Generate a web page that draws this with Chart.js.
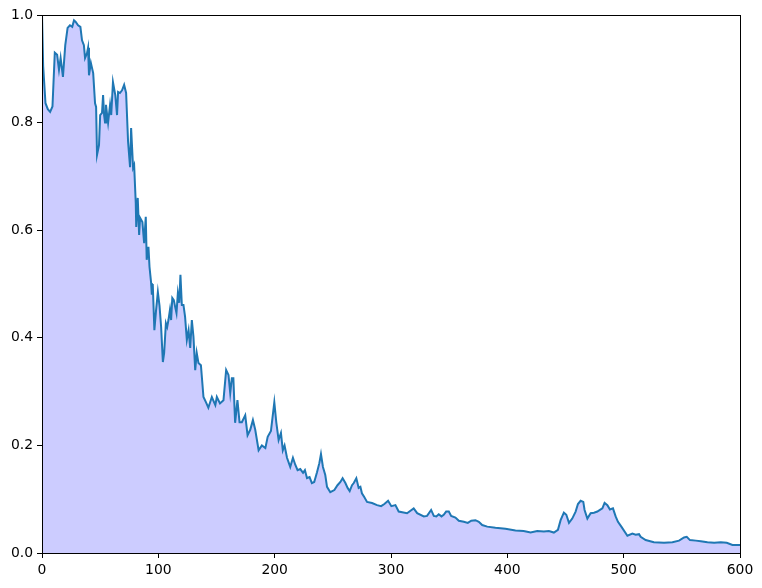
<!DOCTYPE html>
<html>
<head>
<meta charset="utf-8">
<script src="https://cdn.jsdelivr.net/npm/chart.js@4/dist/chart.umd.min.js"></script>
<style>
  html, body { margin: 0; padding: 0; background: #fff; }
  #wrap { width: 762px; height: 588px; position: relative; }
</style>
</head>
<body>
<div id="wrap"><canvas id="chart"></canvas></div>
<script>
// ── Data ─────────────────────────────────────────────────────
const xValues = [
  0, 1, 3, 5, 7, 9, 11, 13, 14.6, 16, 18, 20, 22, 24, 26, 27.5, 29, 31, 33, 34.4,
  36, 37, 38.7, 39.6, 40.4, 42, 44, 45.6, 46.5, 47.3, 49, 50, 51.6, 52.5, 53.4, 54.2,
  55, 56, 56.8, 58.5, 59.5, 61, 63, 64.5, 65.4, 67, 68.8, 70.6, 72.3, 74, 75.7, 76.6,
  78.3, 79.2, 80.6, 81, 82.3, 83.5, 84.3, 86.3, 87.8, 89.2, 90, 91.5, 92.4, 93.8, 94.4,
  95.2, 96.6, 98, 99.6, 101, 102.4, 103.9, 105, 106.5, 107.6, 108.7, 110, 111, 112,
  113.3, 114.5, 115.6, 116.8, 118, 119, 120.2, 121.6, 123, 124.5, 126, 127.4, 128.8,
  130.2, 131.7, 133, 134.5, 136.6, 138.8, 141, 143, 146, 149, 150.3, 153, 156, 158.3,
  160.3, 161.8, 163.2, 164.5, 166, 168, 169.8, 171.8, 174.7, 176.7, 179, 181.3, 183.3,
  186.2, 189, 192, 194, 196.8, 199.7, 201.4, 203.4, 205.4, 207, 208.5, 210.6, 213.4,
  215.7, 217.7, 219.7, 222, 224.4, 226, 227.8, 230, 232, 234, 236.4, 238.4, 239.8,
  241.5, 243.5, 245, 247.8, 251.3, 254, 256.5, 258.4, 260.8, 262.7, 264.5, 266.5, 268,
  270.2, 272.2, 273.7, 275, 277, 279.4, 283.7, 288, 291.5, 294.3, 297.5, 300.3, 303.8,
  306.6, 313.8, 319.5, 322.5, 328.2, 331, 334.5, 336.8, 339, 341, 343.4, 345.3, 347.4,
  349.7, 351.7, 355.4, 358.3, 362.6, 366, 369, 372.6, 375.5, 378.4, 382.7, 389.8, 398.4,
  407, 414, 420, 425.7, 431.4, 435.7, 440, 443.5, 445.8, 448.6, 450.7, 453, 455.8, 458.7,
  460.7, 463, 465.3, 466.4, 468.8, 471.6, 474.5, 477.4, 479.6, 481.7, 483.6, 486, 488.2,
  490.8, 493.1, 495.1, 498, 503.2, 507.5, 510.3, 513.2, 514.6, 518.9, 526, 534.7, 541.9,
  547.6, 551.9, 554.2, 557, 562, 566.3, 572, 577.8, 583.5, 588.6, 593.5, 597.8, 600
];
const yValues = [
  1.0, 0.905, 0.836, 0.825, 0.82, 0.83, 0.93, 0.926, 0.898, 0.92, 0.885, 0.944, 0.976, 0.981, 0.978, 0.99, 0.987, 0.981, 0.978, 0.953,
  0.944, 0.92, 0.929, 0.939, 0.888, 0.911, 0.892, 0.836, 0.829, 0.74, 0.758, 0.814, 0.818, 0.851, 0.814, 0.80,
  0.833, 0.814, 0.80, 0.833, 0.814, 0.875, 0.851, 0.814, 0.857, 0.855, 0.86, 0.87, 0.855, 0.764, 0.717, 0.79,
  0.716, 0.721, 0.65, 0.606, 0.66, 0.591, 0.623, 0.615, 0.576, 0.625, 0.545, 0.569, 0.532, 0.502, 0.48,
  0.50, 0.414, 0.45, 0.485, 0.46, 0.42, 0.355, 0.372, 0.427, 0.42, 0.433, 0.452, 0.433, 0.474,
  0.47, 0.457, 0.446, 0.483, 0.465, 0.517, 0.461, 0.461, 0.439, 0.396, 0.414, 0.381, 0.433,
  0.402, 0.34, 0.372, 0.353, 0.349, 0.29, 0.28, 0.27, 0.29, 0.275, 0.29, 0.278, 0.284, 0.34,
  0.331, 0.297, 0.325, 0.325, 0.242, 0.284, 0.243, 0.243, 0.256, 0.219, 0.229, 0.247, 0.229,
  0.191, 0.2, 0.195, 0.216, 0.227, 0.28, 0.243, 0.21, 0.223, 0.191, 0.2, 0.177, 0.16,
  0.177, 0.164, 0.154, 0.156, 0.149, 0.154, 0.139, 0.141, 0.13, 0.132, 0.15, 0.167, 0.184,
  0.16, 0.145, 0.123, 0.113, 0.117, 0.126, 0.132, 0.139, 0.13, 0.121, 0.115, 0.126, 0.13,
  0.139, 0.121, 0.123, 0.111, 0.104, 0.095, 0.093, 0.089, 0.087, 0.091, 0.097, 0.087, 0.089,
  0.077, 0.074, 0.083, 0.074, 0.068, 0.069, 0.08, 0.069, 0.068, 0.072, 0.068, 0.071, 0.077,
  0.077, 0.069, 0.066, 0.06, 0.058, 0.056, 0.06, 0.061, 0.058, 0.052, 0.049, 0.047, 0.045,
  0.042, 0.041, 0.038, 0.041, 0.04, 0.041, 0.038, 0.043, 0.061, 0.075, 0.071, 0.056, 0.064, 0.077,
  0.091, 0.097, 0.095, 0.08, 0.064, 0.074, 0.075, 0.077, 0.08, 0.083, 0.093, 0.089, 0.081,
  0.083, 0.068, 0.058, 0.049, 0.032, 0.036, 0.034, 0.035, 0.03, 0.024, 0.02, 0.019, 0.02,
  0.023, 0.029, 0.03, 0.024, 0.023, 0.022, 0.02, 0.019, 0.02, 0.019, 0.015, 0.015, 0.015
];
const xTicks = [0, 100, 200, 300, 400, 500, 600];
const yTicks = [0.0, 0.2, 0.4, 0.6, 0.8, 1.0];

// ── Frame around the plot area (matplotlib style box) ────────
const cadre = {
  id: 'cadre',
  afterDatasetsDraw(chart) {
    const a = chart.chartArea, c = chart.ctx;
    c.save();
    c.strokeStyle = '#000';
    c.lineWidth = 1;
    c.strokeRect(Math.round(a.left) + 0.5, Math.round(a.top) + 0.5,
                 Math.round(a.right - a.left), Math.round(a.bottom - a.top));
    c.restore();
  }
};

const police = { family: 'DejaVu Sans', size: 13.9 };

const chart = new Chart(document.getElementById('chart'), {
  type: 'line',
  data: {
    datasets: [{
      data           : xValues.map((x, i) => ({ x: x, y: yValues[i] })),
      borderColor    : '#1f77b4',
      backgroundColor: 'rgba(0,0,255,0.2)',
      borderWidth    : 2,
      pointRadius    : 0,
      tension        : 0,
      fill           : 'origin'
    }]
  },
  options: {
    responsive         : true,
    maintainAspectRatio: false,
    animation          : false,
    layout: { padding: { left: 0, right: 22, top: 15, bottom: 0 } },
    plugins: { legend: { display: false }, tooltip: { enabled: false } },
    scales: {
      x: {
        type: 'linear', min: 0, max: 600,
        afterFit: s => { s.height = 35; },
        afterBuildTicks: s => { s.ticks = xTicks.map(v => ({ value: v })); },
        grid  : { drawOnChartArea: false, tickLength: 5, tickColor: '#000' },
        border: { color: '#000' },
        ticks : { color: '#000', font: police, padding: 4, maxRotation: 0 }
      },
      y: {
        min: 0, max: 1,
        afterFit: s => { s.width = 42; },
        afterBuildTicks: s => { s.ticks = yTicks.map(v => ({ value: v })); },
        grid  : { drawOnChartArea: false, tickLength: 5, tickColor: '#000' },
        border: { color: '#000' },
        ticks : { color: '#000', font: police, padding: 4,
                  callback: v => Number(v).toFixed(1) }
      }
    }
  },
  plugins: [cadre]
});
</script>
</body>
</html>
